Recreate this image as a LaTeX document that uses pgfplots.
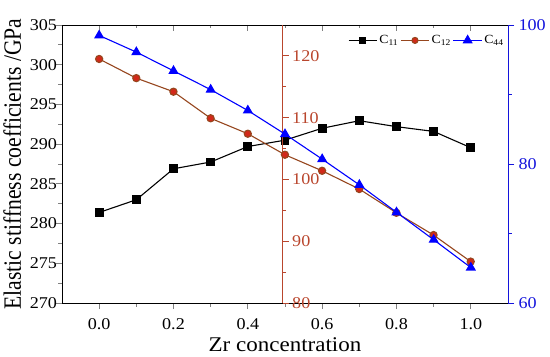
\documentclass[border=0pt]{standalone}
\usepackage{fontspec}
\setmainfont{Liberation Serif}[FakeStretch=1.1]
\newfontfamily\ylabfont{Liberation Serif}[FakeStretch=0.87]
\usepackage{pgfplots}
\pgfplotsset{compat=1.18}
\definecolor{brownline}{RGB}{150,70,30}
\definecolor{redfill}{RGB}{210,40,25}
\definecolor{midax}{RGB}{185,70,45}
\definecolor{bluax}{RGB}{20,20,220}
\begin{document}
\begin{tikzpicture}
\path[use as bounding box] (-62bp,-54bp) rectangle (488bp,303bp);
\pgfplotsset{
  common/.style={
    scale only axis, height=278bp,
    major tick length=6bp, minor tick length=3.5bp,
    tick style={line width=0.8bp},
    axis line style={line width=0.9bp},
    tick label style={font=\fontsize{16.5}{18}\selectfont},
    /pgf/number format/assume math mode=true,
  }
}
% top ticks (inside)
\begin{axis}[common, width=446bp,
  xmin=-0.1, xmax=1.1, ymin=0, ymax=1,
  axis x line*=top, axis y line=none,
  xtick={0,0.2,0.4,0.6,0.8,1.0}, minor x tick num=1,
  xticklabels={}, tick align=inside]
\end{axis}
% main axis, C11
\begin{axis}[common, width=446bp,
  xmin=-0.1, xmax=1.1, ymin=270, ymax=305,
  xtick={0,0.2,0.4,0.6,0.8,1.0}, minor x tick num=1,
  ytick={270,275,...,305}, minor y tick num=1,
  xtick pos=bottom, ytick pos=left, tick align=outside,
  xticklabel style={/pgf/number format/fixed, /pgf/number format/fixed zerofill, /pgf/number format/precision=1, yshift=-6bp},
  yticklabel style={xshift=4.5bp},
  xlabel={Zr concentration},
  ylabel={Elastic stiffness coefficients /GPa},
  xlabel style={font=\fontsize{21}{22}\selectfont, yshift=-1bp},
  ylabel style={font=\ylabfont\fontsize{25}{26}\selectfont},
  ylabel shift=2bp,
]
\addplot[black, line width=1.1bp, mark=square*, mark size=3.8bp, mark options={solid}]
coordinates {(0,281.4)(0.1,283.0)(0.2,286.9)(0.3,287.75)(0.4,289.7)(0.5,290.5)(0.6,292.0)(0.7,292.95)(0.8,292.2)(0.9,291.6)(1.0,289.55)};
\end{axis}
% middle axis, C12
\begin{axis}[common, width=220.7bp,
  xmin=-0.1, xmax=0.494, ymin=80, ymax=125,
  axis y line*=right, axis x line=none, clip=false,
  ytick={80,90,...,120}, minor y tick num=1, tick align=outside,
  y axis line style={draw=midax, line width=0.9bp},
  ytick style={draw=midax},
  yticklabel style={text=midax},
]
\addplot[brownline, line width=1.1bp, mark=*, mark size=3.6bp, mark options={solid, fill=redfill, draw=brownline}]
coordinates {(0,119.5)(0.1,116.4)(0.2,114.2)(0.3,109.9)(0.4,107.4)(0.5,104.0)(0.6,101.4)(0.7,98.45)(0.8,94.6)(0.9,91.0)(1.0,86.7)};
\end{axis}
% right axis, C44
\begin{axis}[common, width=446bp,
  xmin=-0.1, xmax=1.1, ymin=60, ymax=100,
  axis y line*=right, axis x line=none,
  ytick={60,80,100}, minor y tick num=1, tick align=outside,
  y axis line style={draw=bluax, line width=0.9bp},
  ytick style={draw=bluax},
  yticklabel style={text=bluax, xshift=1bp},
  legend columns=3,
  legend style={draw=none, fill=none, at={(0.995,0.97)}, anchor=north east,
    font=\fontsize{12.5}{13}\selectfont, inner sep=0pt,
    /tikz/every even column/.append style={column sep=0bp}},
  legend image code/.code={\draw[mark repeat=2,mark phase=2] plot coordinates {(0cm,0cm) (0.5cm,0cm) (1cm,0cm)};},
]
\addlegendimage{black, line width=1.1bp, mark=square*, mark size=3bp, mark options={solid}}
\addlegendentry{C\textsubscript{11}}
\addlegendimage{brownline, line width=1.1bp, mark=*, mark size=3bp, mark options={solid, fill=redfill, draw=brownline}}
\addlegendentry{C\textsubscript{12}}
\addplot[blue, line width=1.1bp, mark=triangle*, mark size=4.8bp, mark options={solid}]
coordinates {(0,98.5)(0.1,96.1)(0.2,93.4)(0.3,90.7)(0.4,87.7)(0.5,84.3)(0.6,80.7)(0.7,77.0)(0.8,73.05)(0.9,69.1)(1.0,65.1)};
\addlegendentry{C\textsubscript{44}}
\end{axis}
\end{tikzpicture}
\end{document}
